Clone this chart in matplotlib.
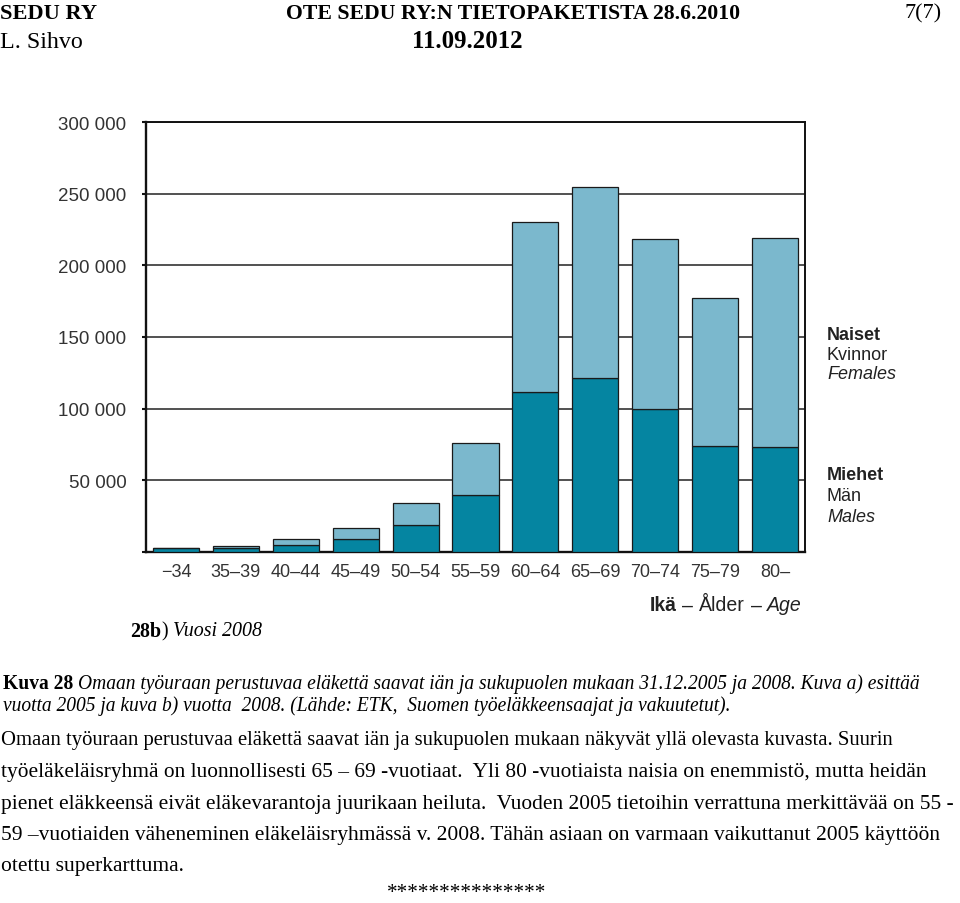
import matplotlib
matplotlib.use('Agg')
import matplotlib.pyplot as plt
import numpy as np

# data (number of pensioners, 2008)
ages = ['\u221234', '35\u201339', '40\u201344', '45\u201349', '50\u201354', '55\u201359',
        '60\u201364', '65\u201369', '70\u201374', '75\u201379', '80\u2013']
males = [2500, 3000, 4900, 9100, 19000, 40000, 111700, 121300, 100000, 74300, 73200]
females = [400, 1200, 4400, 7900, 15000, 35800, 118800, 133600, 118200, 102700, 145800]
yticks = [0, 50000, 100000, 150000, 200000, 250000, 300000]
ytick_labels = ['', '50 000', '100 000', '150 000', '200 000', '250 000', '300 000']

DARK = '#0585a1'
LIGHT = '#7bb8cd'
W, H = 960, 904
SANS = 'Liberation Sans'
SERIF = 'Liberation Serif'

fig = plt.figure(figsize=(W / 100, H / 100), dpi=100)
rend = fig.canvas.get_renderer()

ax = fig.add_axes([146 / W, 1 - 553 / H, 659 / W, 430 / H])
x = np.arange(len(ages))
ax.bar(x, males, width=0.77, color=DARK, edgecolor='#1a1a1a', linewidth=0.9, zorder=3)
ax.bar(x, females, width=0.77, bottom=males, color=LIGHT, edgecolor='#1a1a1a',
       linewidth=0.9, zorder=3)
ax.set_xlim(-0.5, len(ages) - 0.5)
ax.set_ylim(0, 300000)
ax.set_yticks(yticks)
ax.set_yticklabels(ytick_labels, fontfamily=SANS, fontsize=13.5, color='#333333')
ax.set_xticks(x)
ax.set_xticklabels(ages, fontfamily=SANS, fontsize=13, color='#333333')
ax.tick_params(axis='x', length=0, pad=8)
ax.tick_params(axis='y', length=3, width=1.5, pad=11, color='#111111')
ax.grid(axis='y', color='#222222', linewidth=1.1, zorder=0)
ax.set_axisbelow(True)
for side in ['left', 'bottom']:
    ax.spines[side].set_linewidth(1.7)
for side in ['top', 'right']:
    ax.spines[side].set_linewidth(1.4)
for sp in ax.spines.values():
    sp.set_color('#111111')


def put_runs(x0, y, parts, size, width=None, ha='left', gap=0.25):
    # parts: (text, kwargs, space_before)
    objs = [fig.text(0, 1 - y / H, s, fontsize=size, va='center', **kw)
            for s, kw, sp in parts]
    widths = [o.get_window_extent(rend).width for o in objs]
    spaces = [gap * size * 100 / 72 if sp else 0 for s, kw, sp in parts]
    total = sum(widths) + sum(spaces)
    if width:
        f = width / total
        for o in objs:
            o.set_fontsize(size * f)
        widths = [w * f for w in widths]
        spaces = [s * f for s in spaces]
        total = width
    if ha == 'right':
        x0 -= total
    elif ha == 'center':
        x0 -= total / 2
    for o, w, s in zip(objs, widths, spaces):
        x0 += s
        o.set_x(x0 / W)
        x0 += w
    return objs


sb = dict(family=SANS, fontweight='bold', color='#222222')
sr = dict(family=SANS, color='#222222')
si = dict(family=SANS, fontstyle='italic', color='#222222')
tb = dict(family=SERIF, fontweight='bold')
tr = dict(family=SERIF)
ti = dict(family=SERIF, fontstyle='italic')

# legend labels
put_runs(827, 335, [('Naiset', sb, 0)], 13)
put_runs(827, 355, [('Kvinnor', sr, 0)], 13)
put_runs(827, 375, [('Females', si, 0)], 13)
put_runs(827, 476, [('Miehet', sb, 0)], 13)
put_runs(827, 497, [('Män', sr, 0)], 13)
put_runs(827, 517, [('Males', si, 0)], 13)

# axis title
put_runs(802, 606, [('Ikä', sb, 0), ('\u2013', sr, 1), ('Ålder', sr, 1),
                    ('\u2013', sr, 1), ('Age', si, 1)], 14, width=152, ha='right',
         gap=0.28)

# page header
put_runs(0, 14, [('SEDU RY', tb, 0)], 16, width=97)
put_runs(514, 14, [('OTE SEDU RY:N TIETOPAKETISTA 28.6.2010', tb, 0)], 16,
         width=456, ha='center')
put_runs(942, 14, [('7(7)', tr, 0)], 16, width=37, ha='right')
put_runs(0, 42, [('L. Sihvo', tr, 0)], 16, width=83)
put_runs(412, 42, [('11.09.2012', tb, 0)], 16, width=111)

# caption
put_runs(130, 632, [('28b', tb, 0), (')', tr, 0), ('Vuosi 2008', ti, 1)], 14, width=132)
put_runs(3, 684, [('Kuva 28', tb, 0),
                  ('Omaan työuraan perustuvaa eläkettä saavat iän ja sukupuolen '
                   'mukaan 31.12.2005 ja 2008. Kuva a) esittää', ti, 1)], 14, width=920)
put_runs(3, 706, [('vuotta 2005 ja kuva b) vuotta  2008. (Lähde: ETK,  Suomen '
                   'työeläkkeensaajat ja vakuutetut).', ti, 0)], 14, width=732)

# body text
body = [
    ('Omaan työuraan perustuvaa eläkettä saavat iän ja sukupuolen mukaan näkyvät '
     'yllä olevasta kuvasta. Suurin', 741, 896),
    ('työeläkeläisryhmä on luonnollisesti 65 \u2013 69 -vuotiaat.  Yli 80 -vuotiaista '
     'naisia on enemmistö, mutta heidän', 773, 926),
    ('pienet eläkkeensä eivät eläkevarantoja juurikaan heiluta.  Vuoden 2005 '
     'tietoihin verrattuna merkittävää on 55 -', 805, 958),
    ('59 \u2013vuotiaiden väheneminen eläkeläisryhmässä v. 2008. Tähän asiaan on '
     'varmaan vaikuttanut 2005 käyttöön', 836, 944),
    ('otettu superkarttuma.', 867, 184),
]
for line, y, w in body:
    put_runs(1, y, [(line, tr, 0)], 15, width=w)

put_runs(467, 894, [('***************', tr, 0)], 15, width=160, ha='center')

fig.savefig('out.png', dpi=100)
